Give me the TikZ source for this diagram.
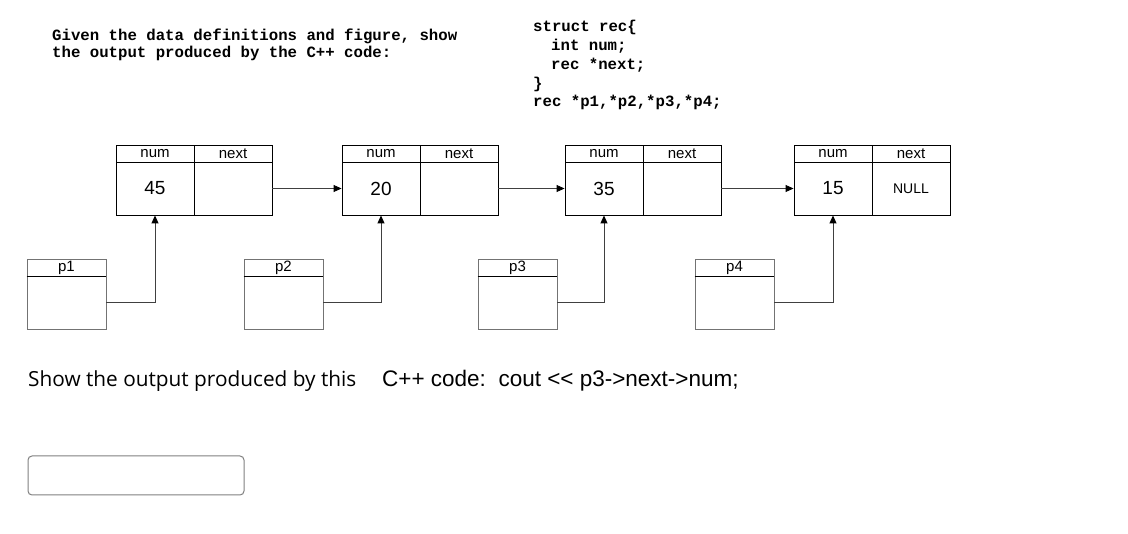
\documentclass[tikz,border=0pt]{standalone}
\usepackage{fontspec}
\setmainfont{Liberation Sans}
\newfontfamily\cour{Liberation Mono}
\newfontfamily\arial{Liberation Sans}
\newfontfamily\osans{Open Sans}
\usetikzlibrary{arrows.meta}
\begin{document}
\begin{tikzpicture}[x=1pt,y=-1pt,
  code/.style={anchor=base west,inner sep=0pt,font=\cour\bfseries\fontsize{15.7}{17}\selectfont},
  hcell/.style={draw=black,line width=0.9pt,minimum width=78pt,minimum height=16.5pt,inner sep=0pt,font=\arial\fontsize{15}{15}\selectfont},
  bcell/.style={draw=black,line width=0.9pt,minimum width=78pt,minimum height=53pt,inner sep=0pt,font=\arial\fontsize{19}{19}\selectfont},
  phead/.style={draw=black!55,line width=0.9pt,minimum width=79pt,minimum height=17pt,inner sep=0pt,font=\arial\fontsize{15}{15}\selectfont},
  pbody/.style={draw=black!55,line width=0.9pt,minimum width=79pt,minimum height=53pt,inner sep=0pt},
  link/.style={draw=black!75,line width=0.9pt,-{Triangle[length=8pt,width=7pt,color=black]}}
]
\useasboundingbox[fill=white] (0,0) rectangle (1128,534);

% header text
\node[code] (t1) at (52,40.5) {Given the data definitions and figure, show};
\node[code] (t2) at (52,57.5) {the output produced by the C++ code:};
\node[code] (s1) at (533,32) {struct rec\{};
\node[code] (s2) at (551,51) {int num;};
\node[code] (s3) at (551,70) {rec *next;};
\node[code] (s4) at (533,89) {\}};
\node[code] (s5) at (533,107) {rec *p1,*p2,*p3,*p4;};

% records
\foreach \i/\L/\v in {1/116/45,2/342/20,3/565/35,4/794/15}{
  \node[hcell] (h\i num) at (\L+39,154) {num};
  \node[hcell] (h\i nxt) at (\L+117,154) {next};
  \node[bcell] (b\i num) at (\L+39,188.5) {\v};
}
\node[bcell] (b1nxt) at (116+117,188.5) {};
\node[bcell] (b2nxt) at (342+117,188.5) {};
\node[bcell] (b3nxt) at (565+117,188.5) {};
\node[bcell,font=\arial\fontsize{14}{14}\selectfont] (b4nxt) at (794+117,188.5) {NULL};

% pointers
\foreach \i/\L in {1/27,2/244,3/478,4/695}{
  \node[phead] (p\i h) at (\L+39.5,267.5) {p\i};
  \node[pbody] (p\i b) at (\L+39.5,302.5) {};
  \draw[black,line width=0.9pt] (p\i h.south west) -- (p\i h.south east);
  \draw[link] (p\i b.east) -| (b\i num.south);
}

% links
\draw[link] (b1nxt.east) -- (b2num.west);
\draw[link] (b2nxt.east) -- (b3num.west);
\draw[link] (b3nxt.east) -- (b4num.west);

% question
\node[anchor=base west,inner sep=0pt,font=\osans\fontsize{20.8}{21}\selectfont] (q1) at (28,387) {Show the output produced by this};
\node[anchor=base west,inner sep=0pt,font=\arial\fontsize{22.5}{23}\selectfont] (q2) at (382,387) {C++ code:\ \ cout << p3->next->num;};

% answer box
\node[draw=black!50,line width=1pt,rounded corners=4pt,minimum width=216pt,minimum height=39pt,inner sep=0pt] (ans) at (136,475.5) {};
\end{tikzpicture}
\end{document}
